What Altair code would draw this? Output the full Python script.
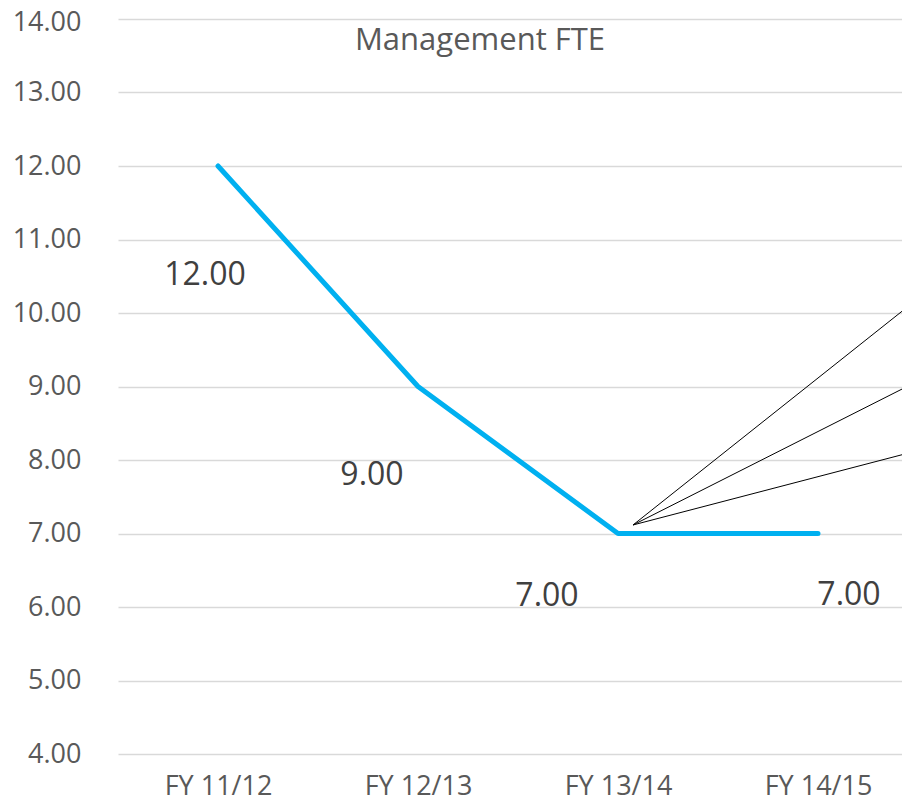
import altair as alt
import pandas as pd

# ---- data ----
categories = ["FY 11/12", "FY 12/13", "FY 13/14", "FY 14/15"]
fte_values = [12.00, 9.00, 7.00, 7.00]
label_texts = ["12.00", "9.00", "7.00", "7.00"]
# manually placed data-label anchors (in data units, as in the source chart)
label_x = [0.435, 1.27, 2.145, 3.655]
label_y = [10.52, 7.80, 6.15, 6.16]
# leader lines fanning out of the FY 13/14 point toward labels off the plot
leader_id = ["a", "b", "c"]
leader_x0 = [2.575, 2.575, 2.575]
leader_y0 = [7.116, 7.116, 7.116]
leader_x1 = [3.96, 3.96, 3.96]
leader_y1 = [10.11, 9.02, 8.10]
y_ticks = [4, 5, 6, 7, 8, 9, 10, 11, 12, 13, 14]
chart_title = "Management FTE"

FONT = "Open Sans"
TEXT = "#595959"

df = pd.DataFrame({
    "cat": categories,
    "pos": [i + 0.5 for i in range(len(categories))],
    "fte": fte_values,
})
lab = pd.DataFrame({"text": label_texts, "lx": label_x, "ly": label_y})
lead = pd.DataFrame({"id": leader_id, "x0": leader_x0, "y0": leader_y0,
                     "x1": leader_x1, "y1": leader_y1})
ttl = pd.DataFrame({"t": [chart_title]})

label_expr = " : ".join(
    f"datum.value == {i + 0.5} ? '{c}'" for i, c in enumerate(categories)
) + " : ''"

xscale = alt.Scale(domain=[0, 3.92], nice=False, zero=False)
yscale = alt.Scale(domain=[4, 14], nice=False, zero=False)

line = alt.Chart(df).mark_line(
    color="#00B0F0", strokeWidth=5, strokeCap="round", strokeJoin="round"
).encode(
    x=alt.X("pos:Q", scale=xscale, title=None,
            axis=alt.Axis(values=[0.5, 1.5, 2.5, 3.5], labelExpr=label_expr,
                          grid=False, domain=False, ticks=False, tickSize=0,
                          labelFont=FONT, labelFontSize=27, labelColor=TEXT,
                          labelBaseline="alphabetic", labelPadding=40)),
    y=alt.Y("fte:Q", scale=yscale, title=None,
            axis=alt.Axis(values=y_ticks, format=".2f", grid=True,
                          gridColor="#D9D9D9", gridWidth=1.5,
                          domain=False, ticks=False, tickSize=0,
                          labelFont=FONT, labelFontSize=27, labelColor=TEXT,
                          labelPadding=37,
                          labelOffset={"condition": {"test": "datum.value == 14", "value": 3},
                                       "value": 0})),
)

leaders = alt.Chart(lead).mark_rule(color="black", strokeWidth=1, clip=True).encode(
    x=alt.X("x0:Q", scale=xscale),
    y=alt.Y("y0:Q", scale=yscale),
    x2="x1:Q",
    y2="y1:Q",
)

labels = alt.Chart(lab).mark_text(
    font=FONT, fontSize=32, color="#404040", align="center", baseline="middle"
).encode(
    x=alt.X("lx:Q", scale=xscale),
    y=alt.Y("ly:Q", scale=yscale),
    text="text:N",
)

title_mark = alt.Chart(ttl).mark_text(
    font=FONT, fontSize=31, color=TEXT, align="center", baseline="alphabetic"
).encode(
    x=alt.value(362),
    y=alt.value(31),
    text="t:N",
)

chart = alt.layer(line, leaders, labels, title_mark).properties(
    width=784,
    height=735,
    background="white",
    autosize=alt.AutoSizeParams(type="none"),
    padding={"left": 110, "top": 11, "right": 0, "bottom": 48},
).configure_view(stroke="transparent", strokeWidth=0)

chart.save("out.html", embed_options={"renderer": "svg", "actions": False})
